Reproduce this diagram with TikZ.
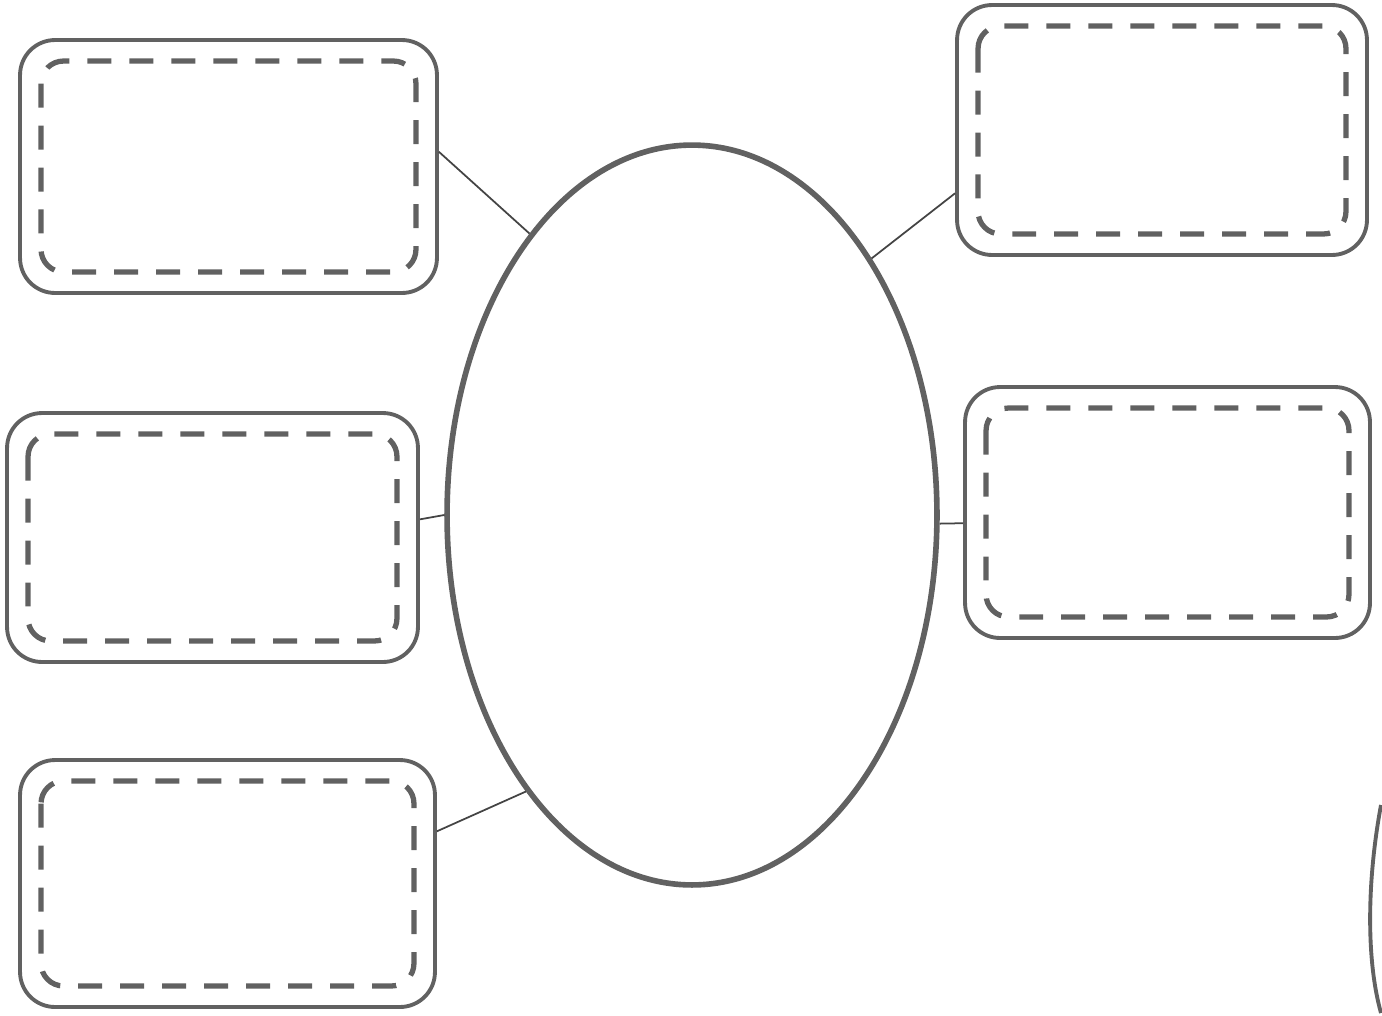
\documentclass[tikz,border=0pt]{standalone}
\usepackage{tikz,xcolor}
\usetikzlibrary{shapes.geometric}
\definecolor{scan}{gray}{0.38}

\begin{document}
\begin{tikzpicture}[x=0.02cm,y=-0.02cm,
  frame/.style={draw=scan, line width=2.2pt, rounded corners=0.7cm, inner sep=0pt,
    path picture={\draw[scan, line width=3pt, dash pattern=on 0.48cm off 0.36cm, rounded corners=0.45cm]
      ([shift={(0.42cm,-0.42cm)}]path picture bounding box.north west) rectangle
      ([shift={(-0.42cm,0.42cm)}]path picture bounding box.south east);}},
  link/.style={draw=scan!70!black, line width=1pt}]
  \useasboundingbox (0,0) rectangle (1382,1015);

  % centre
  \node[draw=scan, line width=3.2pt, ellipse, inner sep=0pt,
        minimum width=9.8cm, minimum height=14.8cm] (hub) at (692,515) {};

  % left column
  \node[frame, minimum width=8.34cm, minimum height=5.06cm] (tl) at (228.5,166.5) {};
  \node[frame, minimum width=8.22cm, minimum height=4.98cm] (ml) at (212.5,537.5) {};
  \node[frame, minimum width=8.30cm, minimum height=4.94cm] (bl) at (227.5,883.5) {};

  % right column
  \node[frame, minimum width=8.20cm, minimum height=5.00cm] (tr) at (1162,130) {};
  \node[frame, minimum width=8.10cm, minimum height=5.02cm] (mr) at (1167.5,512.5) {};

  \draw[link] (tl.4) -- (hub.120);
  \draw[link] (ml.5.5) -- (hub.180.5);
  \draw[link] (bl.14) -- (hub.239);
  \draw[link] (tr.197) -- (hub.55);
  \draw[link] (mr.183.5) -- (hub.358);

  % cut edge at the lower right
  \draw[scan, line width=2.2pt] (1381,805) .. controls (1367,880) and (1366,960) .. (1381,1013);
\end{tikzpicture}
\end{document}
